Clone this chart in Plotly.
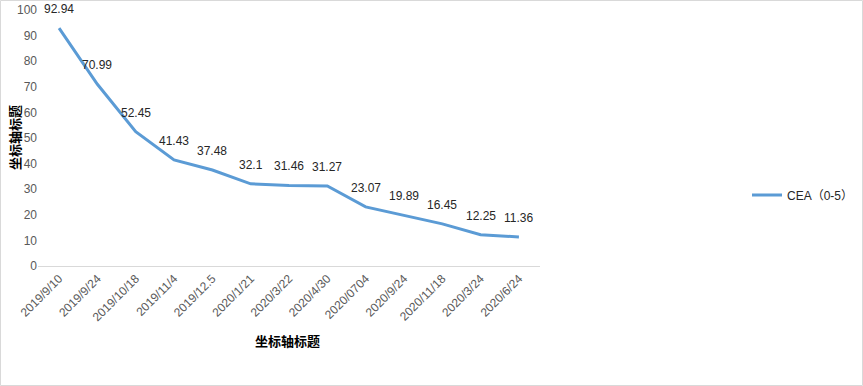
import plotly.graph_objects as go

categories = ["2019/9/10", "2019/9/24", "2019/10/18", "2019/11/4", "2019/12.5", "2020/1/21",
              "2020/3/22", "2020/4/30", "2020/0704", "2020/9/24", "2020/11/18", "2020/3/24", "2020/6/24"]
values = [92.94, 70.99, 52.45, 41.43, 37.48, 32.1, 31.46, 31.27, 23.07, 19.89, 16.45, 12.25, 11.36]
series_name = "CEA（0-5）"
y_ticks = [0, 10, 20, 30, 40, 50, 60, 70, 80, 90, 100]

W, H = 863, 386
L, R, T, B = 38, 323, 10, 120
pw, ph = W - L - R, H - T - B

fig = go.Figure()
fig.add_trace(go.Scatter(
    x=categories, y=values, mode="lines", name=series_name,
    line=dict(color="#5B9BD5", width=3),
    cliponaxis=False,
))

for c, v in zip(categories, values):
    fig.add_annotation(x=c, y=v, text=f"{v:g}", showarrow=False, yshift=19,
                       font=dict(family="Liberation Sans, Arial, sans-serif", size=12, color="#262626"))

fig.update_layout(
    width=W, height=H,
    margin=dict(l=L, r=R, t=T, b=B, autoexpand=False),
    paper_bgcolor="white", plot_bgcolor="white",
    font=dict(family="Liberation Sans, Arial, Noto Sans CJK SC, sans-serif", size=12, color="#595959"),
    showlegend=True,
    legend=dict(x=(747 - L) / pw, y=(266 - 195) / ph, xanchor="left", yanchor="middle",
                font=dict(size=12, color="#262626", family="Liberation Sans, Noto Sans CJK SC, sans-serif"),
                bgcolor="rgba(0,0,0,0)"),
    xaxis=dict(type="category", tickangle=-45, showgrid=False, showline=True, automargin=False,
               linecolor="#D9D9D9", linewidth=1, ticks="", zeroline=False,
               tickfont=dict(size=12, color="#595959"), range=[-0.55, len(categories) - 0.45]),
    yaxis=dict(range=[0, 100], tickvals=y_ticks, showgrid=False, showline=False, zeroline=False,
               automargin=False, ticks="", tickfont=dict(size=12, color="#595959")),
)

fig.add_annotation(text="<b>坐标轴标题</b>", xref="paper", yref="paper",
                   x=(287 - L) / pw, y=(266 - 340) / ph, xanchor="center", yanchor="middle",
                   showarrow=False,
                   font=dict(family="Noto Sans CJK SC", size=13, color="#000000"))
fig.add_annotation(text="<b>坐标轴标题</b>", xref="paper", yref="paper",
                   x=(14 - L) / pw, y=(266 - 138) / ph, xanchor="center", yanchor="middle",
                   showarrow=False, textangle=-90,
                   font=dict(family="Noto Sans CJK SC", size=13, color="#000000"))

fig.add_shape(type="rect", xref="paper", yref="paper",
              x0=(0.5 - L) / pw, x1=(W - 0.5 - L) / pw,
              y0=(266 - (H - 0.5)) / ph, y1=(266 - 0.5) / ph,
              line=dict(color="#D9D9D9", width=1), fillcolor="rgba(0,0,0,0)", layer="below")

fig.write_html("out.html", config={"displayModeBar": False},
               post_script="document.body.style.margin='0';document.body.style.overflow='hidden';")
